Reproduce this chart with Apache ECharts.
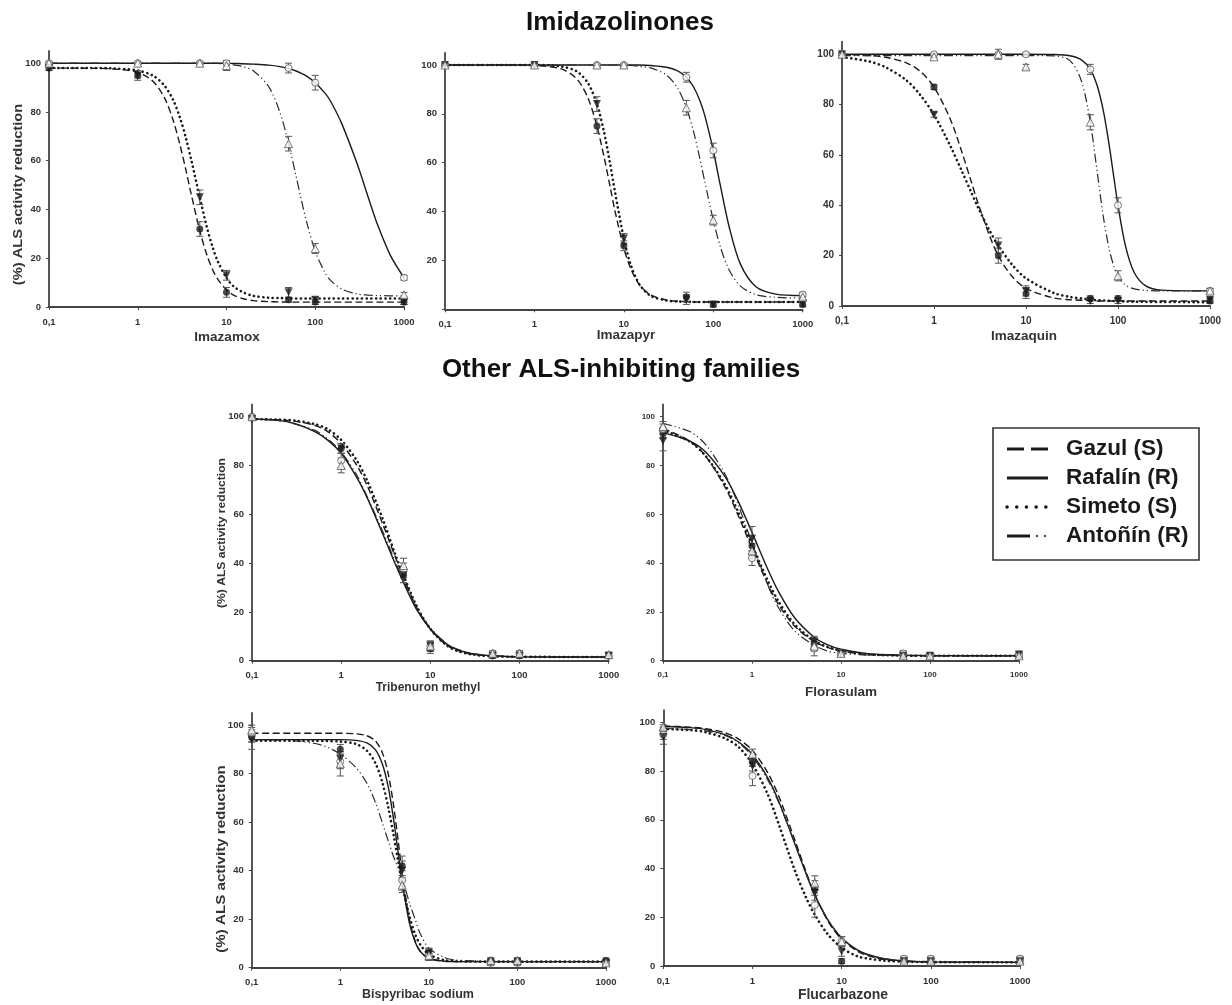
<!DOCTYPE html>
<html>
<head>
<meta charset="utf-8">
<title>ALS activity reduction</title>
<script src="https://cdn.jsdelivr.net/npm/echarts@6/dist/echarts.min.js"></script>
<style>
  html, body { margin: 0; padding: 0; background: #fff; }
  #chart { width: 1232px; height: 1005px; }
</style>
</head>
<body>
<div id="chart"></div>
<script>
  // doses of the measured points, same for every herbicide
  const doses = [0.1, 1, 5, 10, 50, 100, 1000];
  const populations = ['Gazul (S)', 'Rafalín (R)', 'Simeto (S)', 'Antoñín (R)'];
  const herbicides = ['Imazamox', 'Imazapyr', 'Imazaquin', 'Tribenuron methyl', 'Florasulam', 'Bispyribac sodium', 'Flucarbazone'];
  const groupTitles = ['Imidazolinones', 'Other ALS-inhibiting families'];
  const yTicks = [0, 20, 40, 60, 80, 100];

  // rows: Gazul, Rafalín, Simeto, Antoñín
  const imazamoxMean = [[98, 95, 32, 6, 3, 2, 2], [100, 100, 100, 100, 98, 92, 12], [98, 95, 45, 13, 6, 3, 2], [100, 100, 100, 99, 67, 24, 5]];
  const imazamoxErr = [[1, 2, 3, 2, 1, 1, 1], [0.5, 0.5, 0.5, 1, 2, 3, 1], [1, 1, 3, 2, 2, 1, 1], [0.5, 0.5, 0.5, 2, 3, 2, 1]];
  const imazamoxFitX = [0.1, 0.3, 0.5, 1, 1.5, 2, 2.5, 3, 3.5, 4, 5, 6, 7, 8, 10, 12, 15, 20, 30, 40, 50, 60, 70, 80, 100, 130, 150, 200, 300, 400, 500, 700, 1000];
  const imazamoxFit = [
    [98, 97.9, 97.7, 96.3, 92.4, 85.8, 76.7, 66.3, 55.9, 46.3, 31.3, 21.4, 15.2, 11.3, 7, 4.9, 3.5, 2.6, 2.2, 2.1, 2, 2, 2, 2, 2, 2, 2, 2, 2, 2, 2, 2, 2],
    [100, 100, 100, 100, 100, 100, 100, 100, 100, 100, 100, 100, 100, 100, 100, 99.9, 99.8, 99.6, 99.2, 98.6, 97.8, 96.9, 95.8, 94.7, 92, 87.5, 84.2, 75, 58.2, 44.4, 34, 21.3, 12],
    [98, 98, 97.9, 97, 94.8, 90.8, 85, 77.5, 69.1, 60.5, 44.9, 32.8, 24.4, 18.6, 11.9, 8.5, 6.2, 4.6, 3.8, 3.65, 3.6, 3.5, 3.5, 3.5, 3.5, 3.5, 3.5, 3.5, 3.5, 3.5, 3.5, 3.5, 3.5],
    [100, 100, 100, 100, 100, 100, 100, 100, 100, 100, 100, 100, 100, 99.9, 99.6, 99.3, 98.7, 96.9, 90.3, 79.8, 67.2, 54.6, 43.7, 34.8, 22.9, 13.8, 10.8, 7.3, 5.3, 4.9, 4.7, 4.6, 4.5]
  ];

  const imazapyrMean = [[100, 100, 75, 26, 5, 2, 2], [100, 100, 100, 100, 95, 65, 6], [100, 100, 84, 29, 4, 2, 2.5], [100, 100, 100, 100, 82.5, 36.5, 5]];
  const imazapyrErr = [[0.5, 0.5, 3, 2, 2, 1, 1], [0.5, 0.5, 0.5, 0.5, 2, 3, 1], [0.5, 0.5, 3, 2, 2, 1, 1], [0.5, 0.5, 0.5, 0.5, 3, 2, 1]];
  const imazapyrFitX = [0.1, 0.5, 1, 2, 3, 4, 5, 6, 7, 8, 10, 12, 15, 20, 30, 40, 50, 60, 70, 80, 100, 120, 150, 200, 300, 500, 1000];
  const imazapyrFit = [
    [100, 100, 99.8, 98.4, 94.2, 86.2, 75, 62.5, 50.4, 39.9, 25, 16.5, 9.9, 5.8, 3.75, 3.3, 3.2, 3, 3, 3, 3, 3, 3, 3, 3, 3, 3],
    [100, 100, 100, 100, 100, 100, 100, 100, 100, 100, 100, 100, 100, 99.8, 99.1, 97.6, 95, 91.1, 85.9, 79.6, 65, 50.7, 34, 18.7, 9.2, 6.2, 5.6],
    [100, 100, 100, 99.4, 97.3, 92.4, 84, 72.6, 59.8, 47.6, 29, 18, 10.1, 5.5, 3.6, 3.2, 3.1, 3, 3, 3, 3, 3, 3, 3, 3, 3, 3],
    [100, 100, 100, 100, 100, 100, 100, 100, 100, 100, 99.9, 99.8, 99.4, 98.8, 95.9, 90.5, 82.5, 72.9, 62.5, 52.6, 36.5, 25.6, 16.2, 9.6, 6, 4.9, 4.6]
  ];

  const imazaquinMean = [[100, 87, 20, 5, 3, 3, 2], [100, 100, 100, 100, 94, 40, 6], [100, 76, 24, 6, 2, 2, 2.5], [100, 99, 100, 95, 73, 12, 6]];
  const imazaquinErr = [[0.5, 1, 3, 2, 1, 1, 1], [0.5, 0.5, 0.5, 0.5, 2, 3, 1], [0.5, 1, 3, 2, 1, 1, 1], [0.5, 0.5, 2, 1, 3, 2, 1]];
  const imazaquinFitX = [0.1, 0.2, 0.3, 0.5, 0.7, 1, 1.5, 2, 2.5, 3, 4, 5, 7, 10, 20, 30, 40, 50, 60, 70, 80, 90, 100, 120, 150, 200, 300, 1000];
  const imazaquinFit = [
    [99.9, 99.5, 98.8, 96.6, 93.4, 87, 74.3, 61.4, 50.2, 41, 28.1, 20, 11.9, 7, 3.2, 2.5, 2.3, 2.2, 2, 2, 2, 2, 2, 2, 2, 2, 2, 2],
    [100, 100, 100, 100, 100, 100, 100, 100, 100, 100, 100, 100, 100, 100, 99.9, 99.4, 97.8, 94, 87, 76.7, 64.1, 51.3, 40, 24.2, 13.3, 8, 6.3, 6],
    [98.9, 97.1, 94.8, 89.7, 84.1, 76, 63.7, 53.7, 45.7, 39.3, 30.1, 24, 16.6, 11, 5.2, 3.6, 3, 2.5, 2.3, 2.2, 2.1, 2, 1.9, 1.8, 1.7, 1.65, 1.6, 1.5],
    [99.5, 99.5, 99.5, 99.5, 99.5, 99.5, 99.5, 99.5, 99.5, 99.5, 99.5, 99.5, 99.5, 99.5, 99.4, 97.5, 89.4, 73, 52.1, 34.4, 22.8, 15.9, 12, 8.4, 6.8, 6.2, 6, 6]
  ];

  const tribenuronMean = [[100, 87, 35, 5, 2, 2, 2], [100, 82, 37, 6, 3, 3, 2], [99, 87, 35, 6, 2, 2, 2], [100, 80, 39, 6, 3, 3, 2.5]];
  const tribenuronErr = [[0.5, 2, 3, 2, 1, 1, 1], [0.5, 3, 3, 2, 1, 1, 1], [0.5, 2, 3, 2, 1, 1, 1], [0.5, 3, 3, 2, 1, 1, 1]];
  const tribenuronFitX = [0.1, 0.2, 0.3, 0.5, 0.7, 1, 1.5, 2, 3, 4, 5, 7, 10, 15, 20, 30, 50, 100, 1000];
  const tribenuronFit = [
    [99, 98.7, 98.2, 96.5, 94, 89, 80, 71, 55, 43, 34, 22, 13, 6.5, 4.2, 2.6, 1.9, 1.6, 1.5],
    [99, 98.5, 97.2, 94, 90.5, 85, 75, 66, 51, 40, 32, 21, 13, 7, 4.5, 2.8, 2, 1.6, 1.5],
    [99, 98.8, 98.4, 97, 95, 90.5, 82, 73, 57, 44, 35, 22.5, 13, 6.5, 4, 2.5, 1.8, 1.6, 1.5],
    [99, 98.4, 97, 94.5, 91, 85.5, 76, 66.5, 52, 41, 33, 21.5, 13.5, 7.2, 4.8, 3, 2, 1.6, 1.5]
  ];

  const florasulamMean = [[93, 47, 7, 3, 2, 2, 2], [95, 42, 5, 3, 3, 2, 2.5], [90, 50, 8, 3, 2, 2, 2.5], [96, 45, 6, 3, 2, 2, 2]];
  const florasulamErr = [[2, 3, 2, 1, 1, 1, 1], [2, 3, 3, 1, 1, 1, 1], [4, 5, 2, 1, 1, 1, 1], [2, 3, 2, 1, 1, 1, 1]];
  const florasulamFitX = [0.1, 0.2, 0.3, 0.5, 0.7, 1, 1.5, 2, 3, 5, 7, 10, 20, 50, 100, 1000];
  const florasulamFit = [
    [95.2, 90, 83.9, 71, 59.5, 46, 31.4, 22.9, 14.2, 7.8, 5.5, 4, 2.5, 2.1, 2, 2],
    [93.5, 90, 85.6, 75.3, 65.3, 52.6, 37.6, 28.1, 17.7, 9.6, 6.6, 4.7, 2.9, 2.3, 2.1, 2],
    [94.5, 89.8, 84, 72, 60.9, 47.5, 32.9, 24.1, 15, 8.2, 5.7, 4.1, 2.6, 2.1, 2, 2],
    [97.2, 93.9, 88.7, 76.3, 63.9, 48.2, 31.1, 21.5, 12.3, 6.3, 4, 3, 2.3, 2.1, 2, 2]
  ];

  const bispyribacMean = [[95, 90, 42, 6, 3, 3, 3], [96, 85, 36, 5, 2, 2, 2], [94, 86, 40, 6, 2, 2, 2], [98, 84, 34, 5, 3, 3, 2]];
  const bispyribacErr = [[2, 2, 4, 2, 1, 1, 1], [3, 3, 4, 2, 1, 1, 1], [4, 3, 4, 2, 1, 1, 1], [2, 5, 3, 2, 1, 1, 1]];
  const bispyribacFitX = [0.1, 0.3, 0.5, 0.7, 1, 1.5, 2, 2.5, 3, 3.5, 4, 4.5, 5, 6, 7, 8, 10, 15, 20, 50, 1000];
  const bispyribacFit = [
    [96.6, 96.6, 96.6, 96.6, 96.6, 96.4, 95.6, 93.4, 88.4, 79.4, 66.8, 52.4, 38.9, 20.3, 11, 6.8, 3.8, 2.6, 2.5, 2.5, 2.5],
    [94, 94, 94, 94, 94, 93.7, 92.6, 89.8, 83.7, 74, 61.1, 47.5, 35.3, 18.8, 10.6, 6.7, 3.9, 2.7, 2.55, 2.5, 2.5],
    [93.5, 93.5, 93.5, 93.4, 93.2, 92.2, 89.4, 84.2, 76.1, 65.7, 54.6, 43.9, 34.7, 21.5, 13.8, 9.5, 5.5, 3.1, 2.7, 2.5, 2.5],
    [94, 93.5, 92.5, 91, 88, 82.5, 76, 68, 59.5, 52, 45.7, 41, 37, 27, 20, 14, 8, 4.2, 3.2, 2.6, 2.5]
  ];

  const flucarbazoneMean = [[97, 84, 32, 2, 2, 2, 2], [95, 78, 25, 10, 3, 3, 3], [94, 82, 30, 6, 2, 2, 2], [98, 87, 34, 10, 2, 2, 2]];
  const flucarbazoneErr = [[1, 2, 3, 1, 1, 1, 1], [2, 4, 5, 2, 1, 1, 1], [3, 2, 3, 2, 1, 1, 1], [1, 2, 3, 2, 1, 1, 1]];
  const flucarbazoneFitX = [0.1, 0.2, 0.3, 0.5, 0.7, 1, 1.5, 2, 3, 4, 5, 7, 10, 15, 20, 30, 50, 100, 1000];
  const flucarbazoneFit = [
    [98.5, 98, 97.4, 95.6, 93.1, 88.4, 79, 69.1, 51.5, 38.5, 29.4, 18.5, 11, 6.1, 4.2, 2.6, 1.9, 1.6, 1.5],
    [98.3, 97.8, 97, 94.8, 91.9, 86.7, 76.9, 67, 50, 37.7, 29.1, 18.9, 11.5, 6.6, 4.6, 3, 2.1, 1.7, 1.5],
    [97.3, 96.8, 95.9, 93.3, 89.8, 82.8, 70, 57.5, 39, 28, 21, 13, 7.5, 4, 3, 2.2, 1.8, 1.6, 1.5],
    [97.5, 97, 96.5, 94.5, 91.5, 86, 76, 66.5, 50, 38, 29.5, 19, 11.5, 6.5, 4.5, 3, 2.2, 1.8, 1.6]
  ];

  const panels = [
    { mean: imazamoxMean, err: imazamoxErr, fitX: imazamoxFitX, fit: imazamoxFit },
    { mean: imazapyrMean, err: imazapyrErr, fitX: imazapyrFitX, fit: imazapyrFit },
    { mean: imazaquinMean, err: imazaquinErr, fitX: imazaquinFitX, fit: imazaquinFit },
    { mean: tribenuronMean, err: tribenuronErr, fitX: tribenuronFitX, fit: tribenuronFit },
    { mean: florasulamMean, err: florasulamErr, fitX: florasulamFitX, fit: florasulamFit },
    { mean: bispyribacMean, err: bispyribacErr, fitX: bispyribacFitX, fit: bispyribacFit },
    { mean: flucarbazoneMean, err: flucarbazoneErr, fitX: flucarbazoneFitX, fit: flucarbazoneFit }
  ];

  // plot boxes in pixels
  const layouts = [
    { left: 49, top: 51, width: 355, height: 256, font: 9.5 },
    { left: 445, top: 52.8, width: 357.7, height: 256.5, font: 9.5, hideZero: true },
    { left: 842, top: 41.7, width: 368, height: 264.3, font: 10 },
    { left: 252, top: 404.5, width: 356.7, height: 256.2, font: 9.5 },
    { left: 663, top: 404.5, width: 356, height: 256.2, font: 8 },
    { left: 251.7, top: 712.9, width: 354.3, height: 254.8, font: 9.5 },
    { left: 663.3, top: 710.1, width: 356.7, height: 255.9, font: 9.5 }
  ];
  // x name: [cx, cy, size]
  const xNamePos = [[227, 337, 13.5], [626, 335, 13.5], [1024, 336, 13.5], [428, 688, 12], [841, 692, 13.5], [418, 995, 12.5], [843, 995, 14]];
  // y name: [cx, cy, size, stretch]
  const yNamePos = [[18.5, 194.5, 12, 1.22], [222.5, 533, 10, 1.21], [221.5, 859, 12, 1.26]];

  const FONT = '"Liberation Sans", Arial, Helvetica, sans-serif';
  const INK = '#1a1a1a';

  const lineStyles = [
    { color: INK, width: 1.4, type: [7, 3.5] },
    { color: INK, width: 1.4, type: 'solid' },
    { color: INK, width: 2.6, type: [0.1, 4.6], cap: 'round' },
    { color: '#2a2a2a', width: 1.2, type: [9, 3, 1.2, 3, 1.2, 3] }
  ];
  const markerStyles = [
    { symbol: 'circle', symbolSize: 7, symbolRotate: 0, itemStyle: { color: INK } },
    { symbol: 'circle', symbolSize: 7, symbolRotate: 0, itemStyle: { color: '#fff', borderColor: '#555', borderWidth: 1 } },
    { symbol: 'triangle', symbolSize: 8, symbolRotate: 180, itemStyle: { color: INK } },
    { symbol: 'triangle', symbolSize: 8, symbolRotate: 0, itemStyle: { color: '#fff', borderColor: '#555', borderWidth: 1 } }
  ];

  function renderErrorBar(params, api) {
    const x = api.value(0);
    const top = api.coord([x, api.value(2)]);
    const bottom = api.coord([x, api.value(1)]);
    const half = 3.5;
    const style = { stroke: '#555', lineWidth: 1 };
    return {
      type: 'group',
      children: [
        { type: 'line', shape: { x1: top[0], y1: top[1], x2: bottom[0], y2: bottom[1] }, style: style },
        { type: 'line', shape: { x1: top[0] - half, y1: top[1], x2: top[0] + half, y2: top[1] }, style: style },
        { type: 'line', shape: { x1: bottom[0] - half, y1: bottom[1], x2: bottom[0] + half, y2: bottom[1] }, style: style }
      ]
    };
  }

  const grid = [], xAxis = [], yAxis = [], series = [];
  const axisLine = { show: true, onZero: false, lineStyle: { color: '#444', width: 1.8 } };

  panels.forEach((p, i) => {
    const box = layouts[i];
    grid.push({ left: box.left, top: box.top, width: box.width, height: box.height, outerBoundsMode: 'none' });
    const labelStyle = { fontFamily: FONT, fontSize: box.font, fontWeight: 'bold', color: '#333' };
    xAxis.push({
      type: 'log', logBase: 10, gridIndex: i, min: 0.1, max: 1000,
      axisLine: axisLine,
      axisTick: { show: true, length: 3, lineStyle: { color: '#444', width: 1 } },
      splitLine: { show: false }, minorTick: { show: false },
      axisLabel: Object.assign({ margin: 10, formatter: v => String(Math.round(v * 10) / 10).replace('.', ',') }, labelStyle)
    });
    const shownTicks = box.hideZero ? yTicks.slice(1) : yTicks;
    yAxis.push({
      type: 'value', gridIndex: i, min: 0, max: 105, interval: 20,
      axisLine: axisLine,
      axisTick: { show: true, length: 3, customValues: yTicks, lineStyle: { color: '#444', width: 1 } },
      splitLine: { show: false },
      axisLabel: Object.assign({ margin: 8, customValues: shownTicks }, labelStyle)
    });
    populations.forEach((name, k) => {
      series.push({
        name: name, type: 'line', xAxisIndex: i, yAxisIndex: i,
        data: p.fitX.map((x, j) => [x, p.fit[k][j]]),
        showSymbol: false, smooth: 0.3,
        lineStyle: lineStyles[k], silent: true, z: 2
      });
      series.push(Object.assign({
        name: name, type: 'scatter', xAxisIndex: i, yAxisIndex: i,
        data: doses.map((d, j) => [d, p.mean[k][j]]), z: 4
      }, markerStyles[k]));
    });
    const bars = [];
    p.mean.forEach((row, k) => row.forEach((m, j) => {
      bars.push([doses[j], Math.max(0, m - p.err[k][j]), m + p.err[k][j]]);
    }));
    series.push({
      type: 'custom', xAxisIndex: i, yAxisIndex: i, data: bars,
      encode: { x: 0, y: [1, 2] }, renderItem: renderErrorBar, silent: true, z: 3
    });
  });

  // texts: titles, axis names, legend
  const graphic = [];
  function addText(text, x, y, size, opts) {
    opts = opts || {};
    graphic.push({
      type: 'text', x: x, y: y, rotation: opts.rotation || 0, scaleX: opts.scaleX || 1,
      style: {
        text: text, fill: opts.color || INK,
        font: 'bold ' + size + 'px ' + FONT,
        align: opts.align || 'center', verticalAlign: 'middle',
        textAlign: opts.align || 'center', textVerticalAlign: 'middle'
      }
    });
  }
  addText(groupTitles[0], 620, 23, 26, { color: '#111' });
  addText(groupTitles[1], 621, 370, 26, { color: '#111' });
  herbicides.forEach((h, i) => addText(h, xNamePos[i][0], xNamePos[i][1], xNamePos[i][2], { color: '#333' }));
  yNamePos.forEach(pos => addText('(%) ALS activity reduction', pos[0], pos[1], pos[2],
    { color: '#333', rotation: Math.PI / 2, scaleX: pos[3] }));

  const legendBox = { x: 993, y: 428, width: 206, height: 132 };
  const legendRows = [449, 478, 507, 536];
  graphic.push({
    type: 'rect', shape: legendBox,
    style: { fill: '#fff', stroke: '#333', lineWidth: 1.6 }, z: 10
  });
  const legendDash = [[17, 7], null, [0.1, 9.6], null];
  legendRows.forEach((y, k) => {
    if (k === 3) {
      graphic.push({ type: 'line', shape: { x1: 1007, y1: y, x2: 1030, y2: y }, style: { stroke: INK, lineWidth: 3 }, z: 11 });
      [1037, 1045].forEach(cx => graphic.push({ type: 'circle', shape: { cx: cx, cy: y, r: 1.3 }, style: { fill: '#555' }, z: 11 }));
    } else {
      graphic.push({
        type: 'line', shape: { x1: 1007, y1: y, x2: 1048, y2: y },
        style: { stroke: INK, lineWidth: k === 2 ? 3.5 : 2.8, lineDash: legendDash[k], lineCap: k === 2 ? 'round' : 'butt' }, z: 11
      });
    }
    graphic.push({
      type: 'text', x: 1066, y: y, z: 11,
      style: {
        text: populations[k], fill: INK, font: 'bold 22.5px ' + FONT,
        align: 'left', verticalAlign: 'middle', textAlign: 'left', textVerticalAlign: 'middle'
      }
    });
  });

  const chart = echarts.init(document.getElementById('chart'), null, { renderer: 'canvas' });
  chart.setOption({
    backgroundColor: '#fff',
    animation: false,
    grid: grid,
    xAxis: xAxis,
    yAxis: yAxis,
    series: series,
    graphic: graphic
  });
</script>
</body>
</html>
